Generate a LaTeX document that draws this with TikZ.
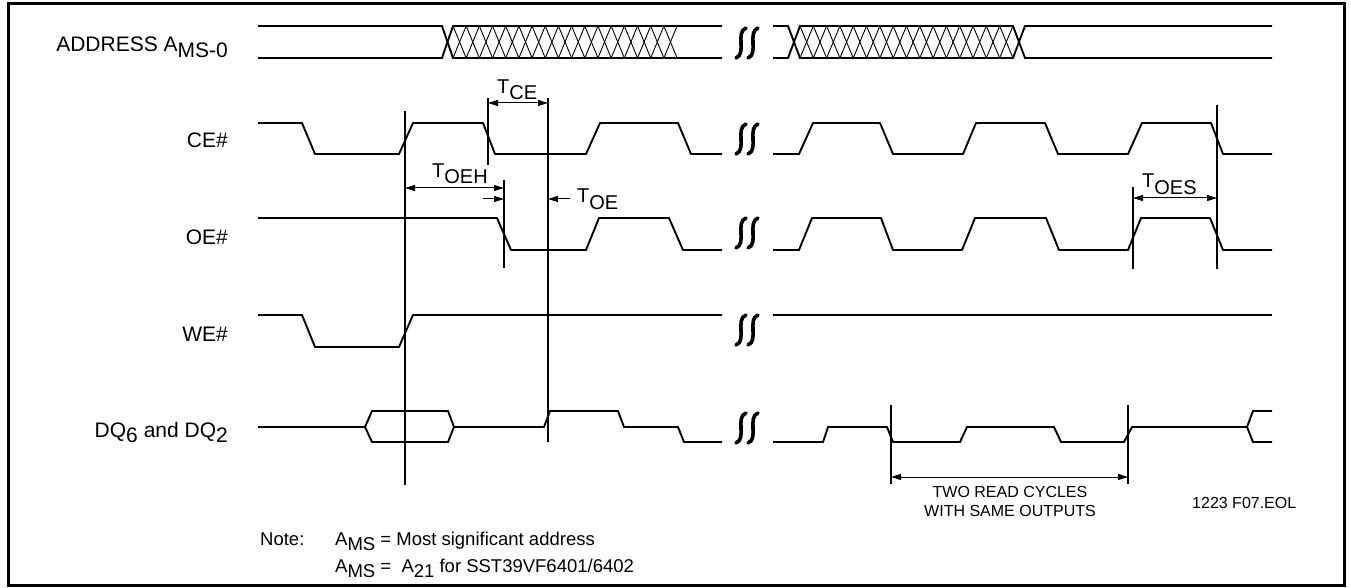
\documentclass[tikz,border=0pt]{standalone}
\usepackage{fontspec}
\setmainfont{Liberation Sans}
\usetikzlibrary{arrows.meta}
\newcommand\lsub[2]{\raisebox{-#1pt}{#2}}
\begin{document}
\begin{tikzpicture}[x=1pt,y=-1pt,
  sig/.style={line width=1.9pt,line join=miter,line cap=butt},
  guide/.style={line width=1.1pt},
  hatchline/.style={line width=0.9pt},
  dimarrow/.style={line width=1pt,{Triangle[length=10pt,width=6pt]}-{Triangle[length=10pt,width=6pt]}},
  onearrow/.style={line width=1pt,-{Triangle[length=10pt,width=6pt]}},
  lbl/.style={anchor=base east,inner sep=0pt,font=\fontsize{21}{25}\selectfont},
  tlbl/.style={anchor=base west,inner sep=0pt,font=\fontsize{20}{24}\selectfont},
  notetxt/.style={anchor=base west,inner sep=0pt,font=\fontsize{18.5}{22}\selectfont},
  smalltxt/.style={inner sep=0pt,font=\fontsize{16}{19}\selectfont},
  brk/.pic={\foreach \dx in {-6,6}{\draw[line width=3.6pt,line cap=round] (\dx+5,-15) .. controls (\dx-6,-11) and (\dx+6,11) .. (\dx-5,15);}}
]
\useasboundingbox (0,0) rectangle (1351,588);
\draw[line width=3pt] (8.5,3.5) rectangle (1344.5,585);

% labels
\node[lbl] (laddr) at (228,52) {ADDRESS A\lsub{6}{MS-0}};
\node[lbl] (lce) at (228,148) {CE\#};
\node[lbl] (loe) at (228,244) {OE\#};
\node[lbl] (lwe) at (228,341) {WE\#};
\node[lbl] (ldq) at (228,437) {DQ\lsub{5}{6} and DQ\lsub{5}{2}};

% ADDRESS
\draw[sig] (258,26) -- (442,26) -- (453,58) -- (722,58);
\draw[sig] (258,58) -- (442,58) -- (453,26) -- (722,26);
\draw[sig] (773,26) -- (788,26) -- (800,58) -- (1013,58) -- (1025,26) -- (1272,26);
\draw[sig] (773,58) -- (788,58) -- (800,26) -- (1013,26) -- (1025,58) -- (1272,58);
\foreach \k in {0,...,16}{
  \draw[hatchline] (453+\k*13.18,26) -- (453+\k*13.18+13.18,58);
  \draw[hatchline] (453+\k*13.18,58) -- (453+\k*13.18+13.18,26);}
\foreach \k in {0,...,15}{
  \draw[hatchline] (800+\k*13.31,26) -- (800+\k*13.31+13.31,58);
  \draw[hatchline] (800+\k*13.31,58) -- (800+\k*13.31+13.31,26);}

% CE#
\draw[sig] (258,123) -- (302,123) -- (315,154) -- (399,154) -- (413,123) -- (483,123) -- (495,154) -- (586,154) -- (600,123) -- (678,123) -- (691,154) -- (722,154);
\draw[sig] (773,154) -- (799,154) -- (813,123) -- (880,123) -- (893,154) -- (963,154) -- (976,123) -- (1045,123) -- (1058,154) -- (1128,154) -- (1142,123) -- (1211,123) -- (1223,154) -- (1272,154);

% OE#
\draw[sig] (258,218) -- (497,218) -- (511,250) -- (586,250) -- (599,218) -- (669,218) -- (683,250) -- (722,250);
\draw[sig] (773,250) -- (799,250) -- (812,218) -- (881,218) -- (893,250) -- (962,250) -- (975,218) -- (1046,218) -- (1059,250) -- (1128,250) -- (1141,218) -- (1210,218) -- (1223,250) -- (1272,250);

% WE#
\draw[sig] (258,315) -- (302,315) -- (315,347) -- (399,347) -- (413,315) -- (722,315);
\draw[sig] (773,315) -- (1272,315);

% DQ
\draw[sig] (258,427) -- (365,427) -- (372,411) -- (448,411) -- (454,427) -- (544,427) -- (550,411) -- (618,411) -- (624,427) -- (678,427) -- (684,442) -- (722,442);
\draw[sig] (365,427) -- (372,442) -- (448,442) -- (454,427);
\draw[sig] (773,442) -- (823,442) -- (828,427) -- (887,427) -- (893,442) -- (960,442) -- (967,427) -- (1054,427) -- (1061,442) -- (1124,442) -- (1132,427) -- (1247,427) -- (1253,411) -- (1272,411);
\draw[sig] (1247,427) -- (1253,442) -- (1272,442);

% breaks
\foreach \yy in {43,139,233,330,428}{\pic at (747,\yy) {brk};}

% guide lines
\coordinate (v1t) at (405,111); \coordinate (v1b) at (405,485);
\coordinate (v2t) at (488,98);  \coordinate (v2b) at (488,165);
\coordinate (v3t) at (548,98);  \coordinate (v3b) at (548,442);
\coordinate (v4t) at (504,180); \coordinate (v4b) at (504,268);
\coordinate (v5t) at (1133,187); \coordinate (v5b) at (1133,269);
\coordinate (v6t) at (1217,105); \coordinate (v6b) at (1217,269);
\coordinate (v7t) at (891,405); \coordinate (v7b) at (891,484);
\coordinate (v8t) at (1128,405); \coordinate (v8b) at (1128,484);
\foreach \v in {1,...,8}{\draw[guide] (v\v t) -- (v\v b);}

% dimension arrows
\coordinate (tce1) at (488,103); \coordinate (tce2) at (548,103);
\draw[dimarrow] (tce1) -- (tce2);
\node[tlbl] (ttce) at (497,94) {T\lsub{6}{CE}};

\coordinate (toeh1) at (405,188); \coordinate (toeh2) at (504,188);
\draw[dimarrow] (toeh1) -- (toeh2);
\node[tlbl] (ttoeh) at (432,178) {T\lsub{6}{OEH}};

\coordinate (toea) at (483,199); \coordinate (toeb) at (504,199);
\coordinate (toec) at (570,199); \coordinate (toed) at (548,199);
\draw[onearrow] (toea) -- (toeb);
\draw[onearrow] (toec) -- (toed);
\node[tlbl] (ttoe) at (577,203) {T\lsub{6}{OE}};

\coordinate (toes1) at (1133,198); \coordinate (toes2) at (1217,198);
\draw[dimarrow] (toes1) -- (toes2);
\node[tlbl] (ttoes) at (1142,188) {T\lsub{6}{OES}};

\coordinate (rc1) at (891,477); \coordinate (rc2) at (1128,477);
\draw[dimarrow] (rc1) -- (rc2);
\node[smalltxt,anchor=base] (rca) at (1010,497) {TWO READ CYCLES};
\node[smalltxt,anchor=base] (rcb) at (1010,516) {WITH SAME OUTPUTS};
\node[smalltxt,anchor=base west] (fig) at (1192,508) {1223 F07.EOL};

% note
\node[notetxt] (note) at (260,545) {Note:};
\node[notetxt] (n1) at (335,545) {A\lsub{5}{MS} = Most significant address};
\node[notetxt] (n2) at (335,572) {A\lsub{5}{MS} =\ \ A\lsub{5}{21} for SST39VF6401/6402};
\end{tikzpicture}
\end{document}
